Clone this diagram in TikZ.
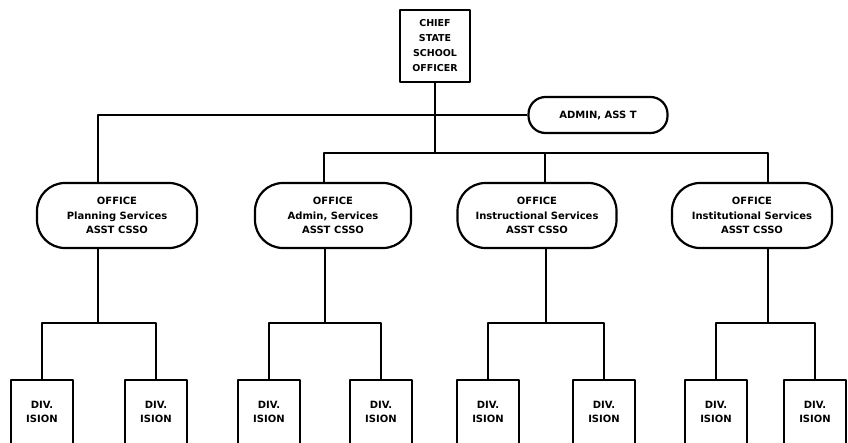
\documentclass[tikz,border=0pt]{standalone}
\usepackage{fontspec}
\setmainfont{DejaVu Sans}
\begin{document}
\begin{tikzpicture}[x=1pt,y=-1pt,line width=2.2pt,line join=round,
  chiefbox/.style={draw,rectangle,minimum width=70pt,minimum height=72pt,align=center,inner sep=0pt,font=\bfseries\fontsize{9.5}{15}\selectfont},
  assbox/.style={draw,rectangle,rounded corners=17pt,minimum width=139pt,minimum height=36pt,inner sep=0pt,font=\bfseries\fontsize{10}{12}\selectfont},
  officebox/.style={draw,rectangle,rounded corners=28pt,minimum height=65pt,align=center,inner sep=0pt,font=\bfseries\fontsize{10}{14.5}\selectfont},
  divbox/.style={draw,rectangle,anchor=north,minimum width=62pt,minimum height=64pt,align=center,inner sep=0pt,font=\bfseries\fontsize{10}{14}\selectfont},
  conn/.style={draw,line width=2.2pt}]
\useasboundingbox (0,0) rectangle (848,442);
\fill[white] (0,0) rectangle (848,442);
\clip (0,0) rectangle (848,442);

% top
\node[chiefbox] (chief) at (435,46) {CHIEF\\STATE\\SCHOOL\\OFFICER};
\node[assbox] (ass) at (598,115) {ADMIN, ASS T};

% offices
\node[officebox,minimum width=160pt] (plan) at (117,215.5) {OFFICE\\Planning Services\\ASST CSSO};
\node[officebox,minimum width=156pt] (adm) at (333,215.5) {OFFICE\\Admin, Services\\ASST CSSO};
\node[officebox,minimum width=159pt] (ins) at (537,215.5) {OFFICE\\Instructional Services\\ASST CSSO};
\node[officebox,minimum width=160pt] (inst) at (752,215.5) {OFFICE\\Institutional Services\\ASST CSSO};

% junction coordinates
\coordinate (jt) at (435,115);
\coordinate (jb) at (435,153);
\coordinate (tp) at (98,115);
\coordinate (ba) at (324,153);
\coordinate (bn) at (545,153);
\coordinate (bi) at (768,153);

\draw[conn] (chief.south) -- (jb);
\draw[conn] (ass.west) -- (tp) -- (tp |- plan.north);
\draw[conn] (ba |- adm.north) -- (ba) -- (bi) -- (bi |- inst.north);
\draw[conn] (bn) -- (bn |- ins.north);

% divisions
\node[divbox] (d1) at (42,379) {DIV.\\ISION};
\node[divbox] (d2) at (156,379) {DIV.\\ISION};
\node[divbox] (d3) at (269,379) {DIV.\\ISION};
\node[divbox] (d4) at (381,379) {DIV.\\ISION};
\node[divbox] (d5) at (488,379) {DIV.\\ISION};
\node[divbox] (d6) at (604,379) {DIV.\\ISION};
\node[divbox] (d7) at (716,379) {DIV.\\ISION};
\node[divbox] (d8) at (815,379) {DIV.\\ISION};

\coordinate (h1) at (98,323);
\coordinate (h2) at (325,323);
\coordinate (h3) at (546,323);
\coordinate (h4) at (768,323);

\draw[conn] (h1 |- plan.south) -- (h1);
\draw[conn] (d1.north) -- (d1.north |- h1) -- (d2.north |- h1) -- (d2.north);
\draw[conn] (h2 |- adm.south) -- (h2);
\draw[conn] (d3.north) -- (d3.north |- h2) -- (d4.north |- h2) -- (d4.north);
\draw[conn] (h3 |- ins.south) -- (h3);
\draw[conn] (d5.north) -- (d5.north |- h3) -- (d6.north |- h3) -- (d6.north);
\draw[conn] (h4 |- inst.south) -- (h4);
\draw[conn] (d7.north) -- (d7.north |- h4) -- (d8.north |- h4) -- (d8.north);
\end{tikzpicture}
\end{document}
